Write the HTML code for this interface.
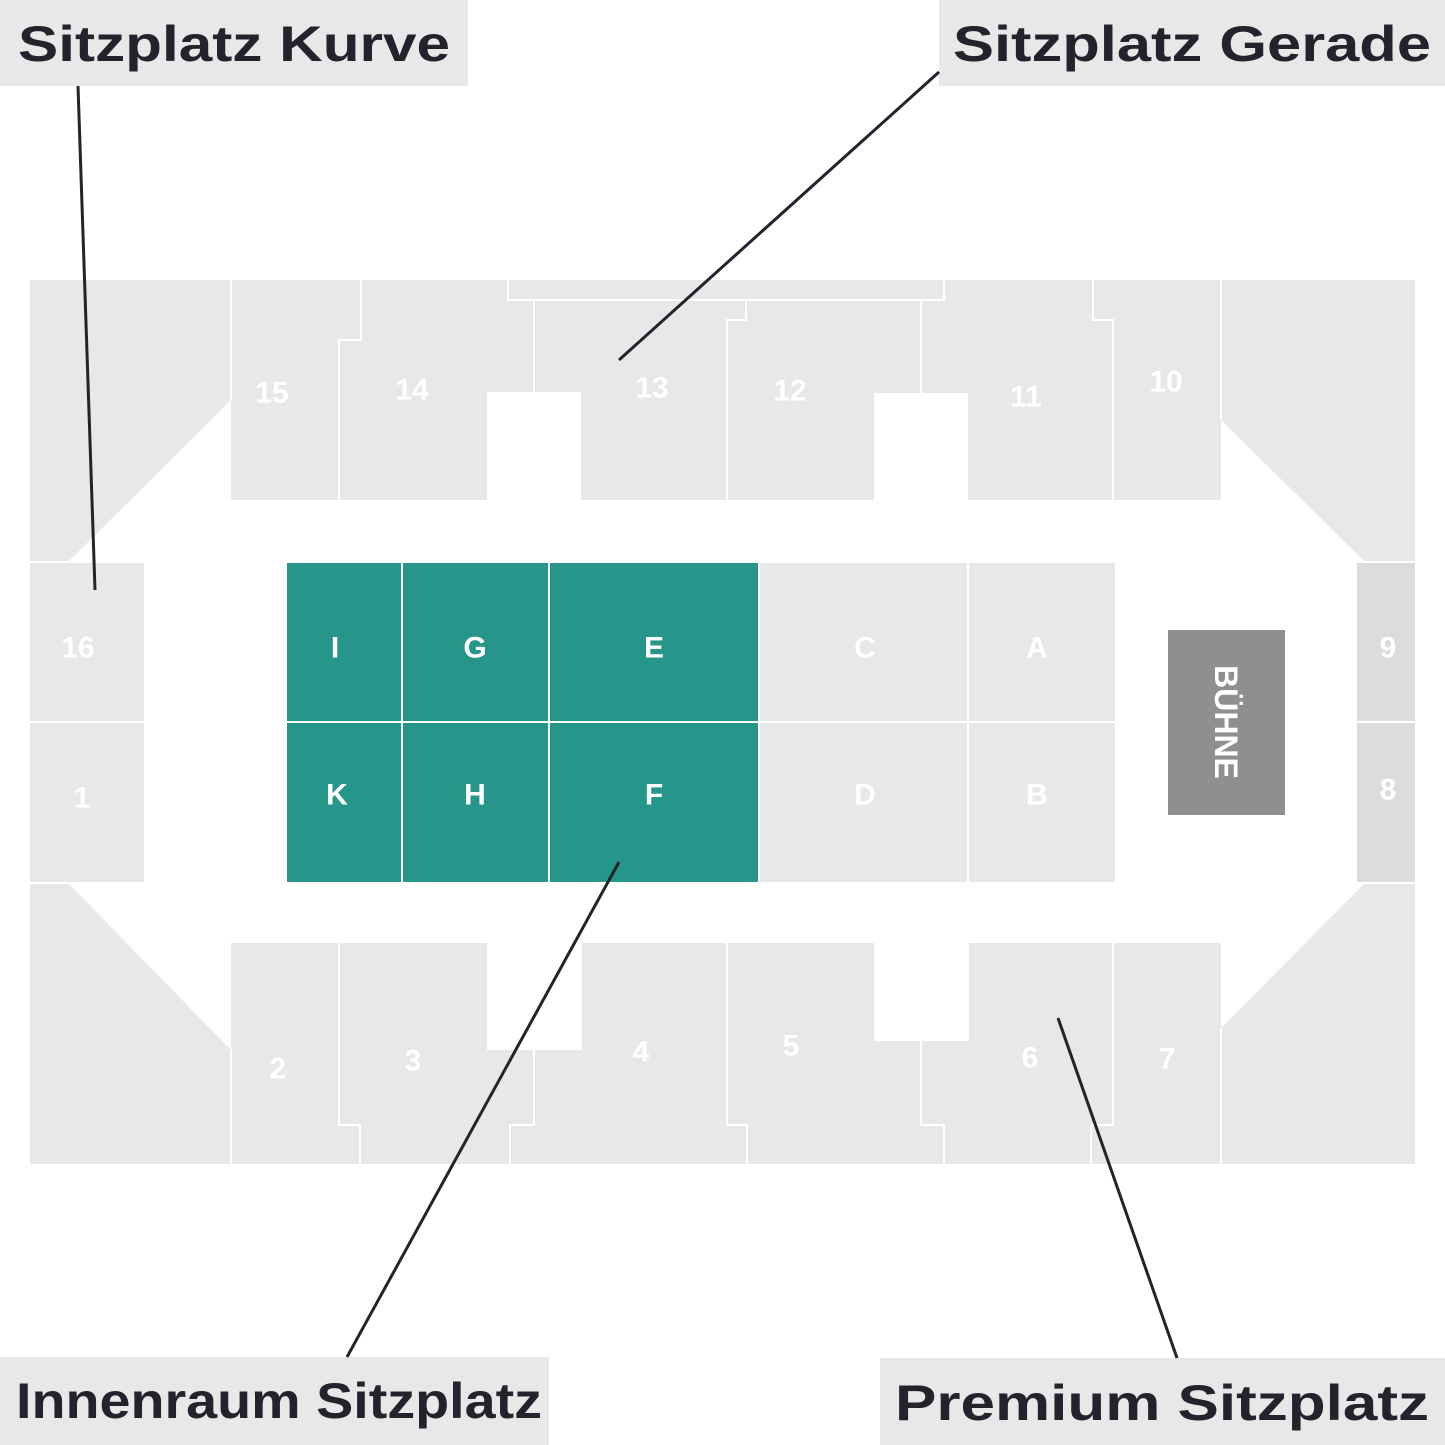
<!DOCTYPE html>
<html><head><meta charset="utf-8"><style>
html,body{margin:0;padding:0;background:#fff;}
svg{display:block;}
.n{font-family:"Liberation Sans",sans-serif;font-weight:bold;fill:#fff;font-size:30px;text-anchor:middle;dominant-baseline:central;}
.lb{font-family:"Liberation Sans",sans-serif;font-weight:bold;fill:#23232e;font-size:50px;}
</style></head><body>
<svg width="1445" height="1445" viewBox="0 0 1445 1445" xmlns="http://www.w3.org/2000/svg">
<rect x="30" y="280" width="1385" height="884" fill="#e8e8e8"/>
<polygon fill="#fff" points="231,400 231,500 1221,500 1221,420 1365,562 1357,562 1357,883 1365,883 1221,1028 1221,943 231,943 231,1050 68,883 144,883 144,562 68,562"/>
<rect x="1357" y="562" width="58" height="321" fill="#dcdcdc"/>
<rect x="30" y="562" width="114" height="321" fill="#e8e8e8"/>
<rect x="487" y="392" width="94" height="108" fill="#fff"/>
<rect x="874" y="393" width="94" height="107" fill="#fff"/>
<rect x="487" y="943" width="95" height="107" fill="#fff"/>
<rect x="874" y="943" width="95" height="98" fill="#fff"/>
<g stroke="#fff" stroke-width="2" fill="none">
<path d="M231 280V400"/>
<path d="M361 280V340H339V500"/>
<path d="M508 280V300H944V280"/>
<path d="M534 300V392"/>
<path d="M746 300V320H727V500"/>
<path d="M921 300V393"/>
<path d="M1093 280V320H1113V500"/>
<path d="M1221 280V420"/>
<path d="M231 1050V1164"/>
<path d="M339 943V1125H360V1164"/>
<path d="M534 1050V1125H510V1164"/>
<path d="M727 943V1125H747V1164"/>
<path d="M921 1041V1125H944V1164"/>
<path d="M1113 943V1125H1091V1164"/>
<path d="M1221 1028V1164"/>
<path d="M30 722H144"/>
<path d="M1357 722H1415"/>
<path d="M30 562H144M1357 562H1415M30 883H144M1357 883H1415"/>
</g>
<rect x="287" y="563" width="471" height="319" fill="#26968b"/>
<rect x="760" y="563" width="355" height="319" fill="#e8e8e8"/>
<g stroke="#fff" stroke-width="2">
<path d="M402 563V882M549 563V882M968 563V882M287 722H1115"/>
</g>
<rect x="1168" y="630" width="117" height="185" fill="#8f8f8f"/>
<text class="n" transform="translate(1226 722) rotate(90)" style="font-size:32px">BÜHNE</text>
<g class="n">
<text x="272" y="393">15</text><text x="412" y="390">14</text><text x="652" y="388">13</text>
<text x="790" y="391">12</text><text x="1026" y="397">11</text><text x="1166" y="382">10</text>
<text x="78" y="648">16</text><text x="82" y="798">1</text>
<text x="278" y="1069">2</text><text x="413" y="1061">3</text><text x="641" y="1052">4</text>
<text x="791" y="1046">5</text><text x="1030" y="1058">6</text><text x="1167" y="1059">7</text>
<text x="1388" y="648">9</text><text x="1388" y="790">8</text>
<text x="335" y="648">I</text><text x="475" y="648">G</text><text x="654" y="648">E</text>
<text x="865" y="648">C</text><text x="1037" y="648">A</text>
<text x="337" y="795">K</text><text x="475" y="795">H</text><text x="654" y="795">F</text>
<text x="865" y="795">D</text><text x="1037" y="795">B</text>
</g>
<rect x="0" y="0" width="468" height="86" fill="#e8e8e8"/>
<rect x="939" y="0" width="506" height="86" fill="#e8e8e8"/>
<rect x="0" y="1357" width="549" height="88" fill="#e8e8e8"/>
<rect x="880" y="1358" width="565" height="87" fill="#e8e8e8"/>
<text class="lb" x="234" y="61" text-anchor="middle" textLength="432" lengthAdjust="spacingAndGlyphs">Sitzplatz Kurve</text>
<text class="lb" x="1192" y="61" text-anchor="middle" textLength="478" lengthAdjust="spacingAndGlyphs">Sitzplatz Gerade</text>
<text class="lb" x="279" y="1418" text-anchor="middle" textLength="526" lengthAdjust="spacingAndGlyphs">Innenraum Sitzplatz</text>
<text class="lb" x="1162" y="1420" text-anchor="middle" textLength="534" lengthAdjust="spacingAndGlyphs">Premium Sitzplatz</text>
<g stroke="#23232e" stroke-width="3">
<line x1="78" y1="86" x2="95" y2="590"/>
<line x1="939" y1="72" x2="619" y2="360"/>
<line x1="619" y1="862" x2="347" y2="1357"/>
<line x1="1058" y1="1018" x2="1177" y2="1358"/>
</g>
</svg>
</body></html>
